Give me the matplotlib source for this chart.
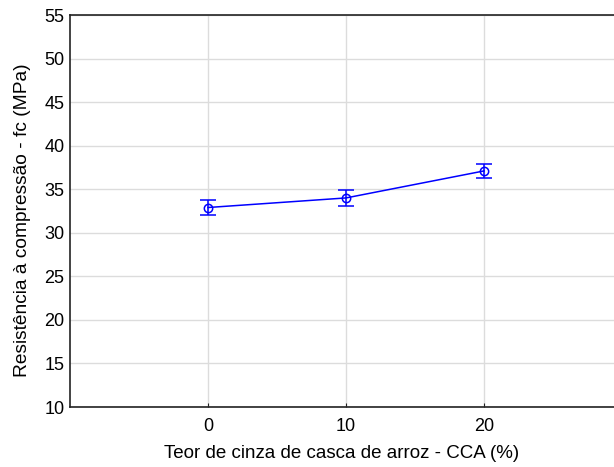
import matplotlib
matplotlib.use("Agg")
import matplotlib.pyplot as plt
import numpy as np

categories = ["0", "10", "20"]
fc_mean = [32.9, 34.0, 37.1]
fc_err = [0.85, 0.9, 0.85]

plt.rcParams['font.family'] = ['Liberation Sans', 'DejaVu Sans']

fig = plt.figure(figsize=(6.14, 4.67), dpi=100)
L, R, T, B = 70, 622, 15, 407
ax = fig.add_axes([L/614, 1 - B/467, (R-L)/614, (B-T)/467])

x = np.arange(len(categories))
ax.errorbar(x, fc_mean, yerr=fc_err, color='#0000ff', lw=1.1, marker='o',
            mfc='none', mec='#0000ff', ms=6, mew=1.1, capsize=6, capthick=1.1,
            elinewidth=1.1)

ax.set_xlim(-1, 3)
ax.set_ylim(10, 55)
ax.set_xticks(x)
ax.set_xticklabels(categories)
ax.set_yticks(np.arange(10, 56, 5))
ax.grid(True, color='#dcdcdc', lw=1)
ax.set_axisbelow(True)
ax.tick_params(axis='both', direction='in', length=3, labelsize=13, pad=8, color='#222222')
ax.tick_params(axis='y', length=0, pad=4)
for s in ['left', 'bottom', 'top']:
    ax.spines[s].set_color('#222222')
    ax.spines[s].set_linewidth(1.2)
ax.spines['right'].set_visible(False)

ax.set_xlabel('Teor de cinza de casca de arroz - CCA (%)', fontsize=13.5)
ax.set_ylabel('Resistência à compressão - fc (MPa)', fontsize=13.8)
ax.xaxis.label.set_va('center')
ax.yaxis.label.set_va('center')
ax.xaxis.set_label_coords((342 - L) / (R - L), (B - 454) / (B - T))
ax.yaxis.set_label_coords((23 - L) / (R - L), (B - 220) / (B - T))

fig.savefig('out.png', dpi=100)
